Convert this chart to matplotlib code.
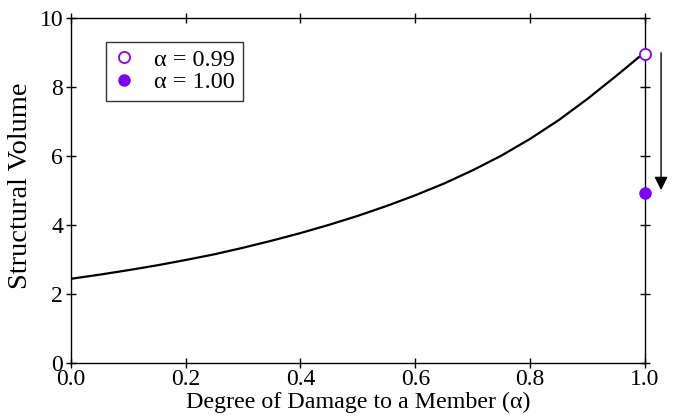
import numpy as np
import matplotlib
matplotlib.use("Agg")
import matplotlib.pyplot as plt

plt.rcParams['font.family'] = ['Liberation Serif', 'DejaVu Serif']

# curve
alpha = [0.0, 0.05, 0.1, 0.15, 0.2, 0.25, 0.3, 0.35, 0.4, 0.45, 0.5,
         0.55, 0.6, 0.65, 0.7, 0.75, 0.8, 0.85, 0.9, 0.95, 0.99]
volume = [2.43, 2.55, 2.68, 2.82, 2.975, 3.14, 3.33, 3.535, 3.755, 3.995, 4.255,
          4.54, 4.85, 5.19, 5.575, 6.0, 6.485, 7.03, 7.645, 8.31, 8.86]

# the two marked points
pt_open_x, pt_open_y = 1.0, 8.95
pt_fill_x, pt_fill_y = 1.0, 4.91
purple = '#7f00ff'

fig = plt.figure(figsize=(6.78, 4.2), dpi=100)
ax = fig.add_axes([0.1043, 0.1364, 0.8470, 0.8219])

ax.plot(alpha, volume, color='black', lw=1.6, zorder=2)
ax.plot([pt_open_x], [pt_open_y], 'o', ms=8, mfc='white', mec=purple, mew=1.3,
        label='α = 0.99', clip_on=False, zorder=4)
ax.plot([pt_fill_x], [pt_fill_y], 'o', ms=8, color=purple,
        label='α = 1.00', clip_on=False, zorder=4)

ax.annotate('', xy=(1.028, 5.0), xytext=(1.028, 8.98),
            arrowprops=dict(arrowstyle='-|>', color='black', lw=1,
                            mutation_scale=20, shrinkA=0, shrinkB=0),
            annotation_clip=False)

ax.set_xlim(0, 1)
ax.set_ylim(0, 10)
ax.set_xticks([0, 0.2, 0.4, 0.6, 0.8, 1.0])
ax.set_xticklabels(['0.0', '0.2', '0.4', '0.6', '0.8', '1.0'])
ax.set_yticks([0, 2, 4, 6, 8, 10])
ax.tick_params(direction='inout', length=7, width=1, labelsize=17,
               top=True, right=True)
ax.tick_params(axis='x', pad=1)
ax.tick_params(axis='y', pad=2)
for s in ax.spines.values():
    s.set_linewidth(1)

ax.set_xlabel('Degree of Damage to a Member (α)', fontsize=17.3, labelpad=1)
ax.set_ylabel('Structural Volume', fontsize=20.5)
ax.yaxis.set_label_coords(-0.066, 0.514)

leg = ax.legend(loc='upper left', bbox_to_anchor=(0.061, 0.93), fontsize=17.5,
                frameon=True, fancybox=False, edgecolor='black',
                handletextpad=0.8, borderpad=0.3, labelspacing=0.02,
                handlelength=0.9, borderaxespad=0)
leg.get_frame().set_linewidth(1)

fig.savefig('out.png', dpi=100)
